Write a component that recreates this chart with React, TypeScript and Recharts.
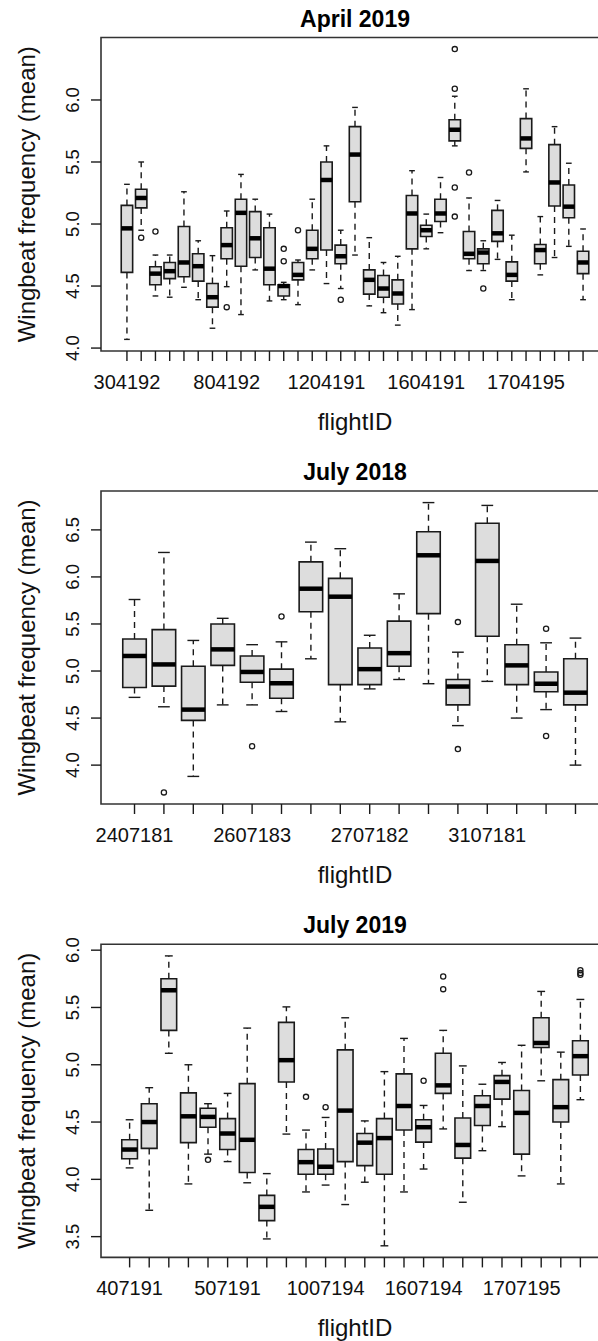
import React from 'react';
import { ComposedChart, XAxis, YAxis, ReferenceArea, ReferenceLine, Scatter } from 'recharts';

const FONT = '"Liberation Sans", Arial, Helvetica, sans-serif';
const INK = '#1a1a1a';
const BOX_FILL = '#dddddd';

// R-like plot geometry (the right side of the frame sits past the crop, like the source image)
const CHART_W = 640;
const CHART_H = 447;
const PLOT_LEFT = 101;
const PLOT_RIGHT = 609;

// --- April 2019 ---
const aprilIds = ['304192', '304193', '404191', '404192', '504191', '504192', '704191', '804192', '804193', '904191', '904192', '1004191', '1004192', '1104191', '1204191', '1204192', '1304191', '1304192', '1404191', '1404192', '1504191', '1604191', '1604192', '1604193', '1704191', '1704192', '1704193', '1704194', '1704195', '1704196', '1804191', '1804192', '1804193'];
const aprilLabelled = [1, 8, 15, 22, 29];
const aprilLow = [4.07, 4.95, 4.42, 4.41, 4.49, 4.39, 4.16, 4.495, 4.27, 4.63, 4.38, 4.39, 4.35, 4.63, 4.52, 4.48, 4.75, 4.34, 4.285, 4.185, 4.31, 4.8, 4.93, 5.63, 4.625, 4.625, 4.715, 4.39, 5.42, 4.59, 4.73, 4.82, 4.39];
const aprilQ1 = [4.61, 5.13, 4.51, 4.56, 4.575, 4.54, 4.33, 4.72, 4.66, 4.73, 4.51, 4.42, 4.55, 4.72, 4.79, 4.68, 5.18, 4.435, 4.41, 4.355, 4.8, 4.9, 5.02, 5.67, 4.72, 4.68, 4.86, 4.54, 5.61, 4.68, 5.145, 5.05, 4.6];
const aprilMedian = [4.965, 5.21, 4.6, 4.62, 4.69, 4.66, 4.41, 4.83, 5.09, 4.885, 4.64, 4.5, 4.59, 4.8, 5.355, 4.74, 5.56, 4.55, 4.48, 4.44, 5.085, 4.95, 5.085, 5.76, 4.76, 4.77, 4.925, 4.59, 5.69, 4.79, 5.335, 5.14, 4.69];
const aprilQ3 = [5.15, 5.28, 4.655, 4.69, 4.98, 4.76, 4.52, 4.97, 5.2, 5.1, 4.97, 4.51, 4.69, 4.95, 5.5, 4.83, 5.785, 4.63, 4.585, 4.55, 5.23, 4.99, 5.2, 5.84, 4.94, 4.8, 5.11, 4.695, 5.85, 4.835, 5.64, 5.315, 4.78];
const aprilHigh = [5.32, 5.5, 4.75, 4.75, 5.26, 4.865, 4.745, 5.105, 5.4, 5.2, 5.08, 4.53, 4.71, 5.2, 5.63, 4.95, 5.94, 4.89, 4.69, 4.74, 5.43, 5.08, 5.375, 6.03, 5.21, 4.865, 5.19, 4.91, 6.09, 5.06, 5.785, 5.49, 4.96];
const aprilOutliers: [number, number][] = [[2, 4.89], [3, 4.94], [8, 4.33], [12, 4.8], [12, 4.7], [13, 4.95], [16, 4.39], [24, 6.41], [24, 6.09], [24, 5.295], [24, 5.06], [25, 5.415], [26, 4.48]];
const aprilYTicks = [4, 4.5, 5, 5.5, 6];

// --- July 2018 ---
const july18Ids = ['2407181', '2407182', '2507181', '2607181', '2607183', '2607184', '2607185', '2707181', '2707182', '2707183', '2807181', '2907181', '3107181', '3107182', '3107183', '3107184'];
const july18Labelled = [1, 5, 9, 13];
const july18Low = [4.72, 4.62, 3.88, 4.64, 4.64, 4.57, 5.13, 4.46, 4.81, 4.91, 4.865, 4.42, 4.89, 4.5, 4.59, 4.0];
const july18Q1 = [4.825, 4.84, 4.475, 5.06, 4.88, 4.71, 5.63, 4.855, 4.855, 5.05, 5.61, 4.64, 5.37, 4.855, 4.78, 4.64];
const july18Median = [5.16, 5.07, 4.59, 5.23, 4.99, 4.87, 5.875, 5.79, 5.02, 5.19, 6.23, 4.835, 6.17, 5.06, 4.865, 4.77];
const july18Q3 = [5.34, 5.44, 5.05, 5.5, 5.16, 5.02, 6.16, 5.985, 5.245, 5.53, 6.48, 4.91, 6.57, 5.28, 4.99, 5.13];
const july18High = [5.76, 6.26, 5.325, 5.56, 5.28, 5.31, 6.37, 6.3, 5.38, 5.82, 6.79, 5.2, 6.76, 5.71, 5.3, 5.35];
const july18Outliers: [number, number][] = [[2, 3.71], [5, 4.2], [6, 5.58], [12, 5.52], [12, 4.17], [15, 5.45], [15, 4.31]];
const july18YTicks = [4, 4.5, 5, 5.5, 6, 6.5];

// --- July 2019 ---
const july19Ids = ['407191', '407192', '407193', '407194', '407195', '507191', '507192', '507193', '807191', '907191', '1007194', '1007195', '1107191', '1207191', '1507191', '1607194', '1607195', '1707191', '1707192', '1707193', '1707195', '1707196', '1807191', '1807192'];
const july19Labelled = [1, 6, 11, 16, 21];
const july19Low = [4.1, 3.73, 5.1, 3.96, 4.22, 4.155, 3.97, 3.48, 4.395, 3.89, 3.95, 3.78, 3.975, 3.42, 3.89, 4.09, 4.44, 3.8, 4.25, 4.46, 4.03, 4.86, 3.96, 4.695];
const july19Q1 = [4.18, 4.27, 5.3, 4.32, 4.455, 4.26, 4.06, 3.64, 4.85, 4.045, 4.045, 4.155, 4.12, 4.045, 4.43, 4.325, 4.75, 4.185, 4.47, 4.7, 4.22, 5.15, 4.5, 4.91];
const july19Median = [4.26, 4.5, 5.65, 4.55, 4.545, 4.4, 4.345, 3.76, 5.04, 4.15, 4.11, 4.6, 4.32, 4.36, 4.64, 4.455, 4.82, 4.3, 4.64, 4.85, 4.58, 5.19, 4.63, 5.075];
const july19Q3 = [4.345, 4.66, 5.75, 4.755, 4.62, 4.53, 4.835, 3.86, 5.37, 4.26, 4.265, 5.13, 4.4, 4.53, 4.92, 4.52, 5.1, 4.535, 4.73, 4.905, 4.775, 5.41, 4.87, 5.21];
const july19High = [4.52, 4.8, 5.95, 5.0, 4.66, 4.75, 5.32, 4.05, 5.505, 4.43, 4.54, 5.41, 4.51, 4.94, 5.23, 4.645, 5.3, 4.99, 4.83, 5.02, 5.17, 5.64, 5.11, 5.57];
const july19Outliers: [number, number][] = [[5, 4.17], [10, 4.72], [11, 4.63], [16, 4.86], [17, 5.77], [17, 5.66], [24, 5.825], [24, 5.8], [24, 5.785]];
const july19YTicks = [3.5, 4, 4.5, 5, 5.5, 6];

interface PanelProps {
  title: string;
  ids: string[];
  labelled: number[];
  low: number[];
  q1: number[];
  median: number[];
  q3: number[];
  high: number[];
  outliers: [number, number][];
  yTicks: number[];
  top: number;
  bottom: number;
}

const BoxPanel: React.FC<PanelProps> = (p) => {
  const n = p.ids.length;
  const xDomain: [number, number] = [0.5 - 0.04 * n, n + 0.5 + 0.04 * n];
  const all = [...p.low, ...p.high, ...p.outliers.map((o) => o[1])];
  const dMin = Math.min(...all);
  const dMax = Math.max(...all);
  const pad = (dMax - dMin) * 0.04;
  const yDomain: [number, number] = [dMin - pad, dMax + pad];
  const midX = (PLOT_LEFT + PLOT_RIGHT) / 2;
  const midY = (p.top + p.bottom) / 2;
  const outlierData = p.outliers.map(([i, v]) => ({ x: i, y: v }));
  const xTicks = p.ids.map((_, i) => i + 1);

  const marks = p.ids.flatMap((_, k) => {
    const x = k + 1;
    return [
      <ReferenceLine key={`wh${k}`} segment={[{ x, y: p.q3[k] }, { x, y: p.high[k] }]} stroke={INK} strokeWidth={1.4} strokeDasharray="6 5" />,
      <ReferenceLine key={`wl${k}`} segment={[{ x, y: p.q1[k] }, { x, y: p.low[k] }]} stroke={INK} strokeWidth={1.4} strokeDasharray="6 5" />,
      <ReferenceLine key={`sh${k}`} segment={[{ x: x - 0.2, y: p.high[k] }, { x: x + 0.2, y: p.high[k] }]} stroke={INK} strokeWidth={1.4} />,
      <ReferenceLine key={`sl${k}`} segment={[{ x: x - 0.2, y: p.low[k] }, { x: x + 0.2, y: p.low[k] }]} stroke={INK} strokeWidth={1.4} />,
      <ReferenceArea key={`b${k}`} x1={x - 0.4} x2={x + 0.4} y1={p.q1[k]} y2={p.q3[k]} fill={BOX_FILL} fillOpacity={1} stroke={INK} strokeWidth={1.6} />,
      <ReferenceLine key={`m${k}`} segment={[{ x: x - 0.4, y: p.median[k] }, { x: x + 0.4, y: p.median[k] }]} stroke="#000" strokeWidth={4.5} />,
    ];
  });

  const renderXTick = (props: any) => {
    const { x, payload } = props;
    const idx = payload.value as number;
    const show = p.labelled.includes(idx);
    return (
      <g>
        <line x1={x} x2={x} y1={p.bottom} y2={p.bottom + 10} stroke={INK} strokeWidth={1.4} />
        {show && (
          <text x={x} y={p.bottom + 37.5} textAnchor="middle" fontSize={20} fontFamily={FONT} fill="#111">
            {p.ids[idx - 1]}
          </text>
        )}
      </g>
    );
  };

  const renderYTick = (props: any) => {
    const { y, payload } = props;
    return (
      <g>
        <line x1={PLOT_LEFT - 10} x2={PLOT_LEFT} y1={y} y2={y} stroke={INK} strokeWidth={1.4} />
        <text x={79} y={y} transform={`rotate(-90 79 ${y})`} textAnchor="middle" fontSize={18.5} fontFamily={FONT} fill="#111">
          {Number(payload.value).toFixed(1)}
        </text>
      </g>
    );
  };

  const titles = () => (
    <g>
      <text x={midX} y={p.top - 11} textAnchor="middle" fontSize={23} fontWeight="bold" fontFamily={FONT} fill="#000">
        {p.title}
      </text>
      <text x={35} y={midY} transform={`rotate(-90 35 ${midY})`} textAnchor="middle" fontSize={24} fontFamily={FONT} fill="#111">
        Wingbeat frequency (mean)
      </text>
    </g>
  );

  const xTitle = () => (
    <text x={midX} y={p.bottom + 79} textAnchor="middle" fontSize={24} fontFamily={FONT} fill="#111">
      flightID
    </text>
  );

  return (
    <ComposedChart width={CHART_W} height={CHART_H} margin={{ top: p.top, right: CHART_W - PLOT_RIGHT, bottom: 0, left: 0 }}>
      <XAxis
        type="number"
        dataKey="x"
        domain={xDomain}
        allowDataOverflow
        ticks={xTicks}
        interval={0}
        axisLine={false}
        tickLine={false}
        height={CHART_H - p.bottom}
        tick={renderXTick}
        label={xTitle}
      />
      <YAxis
        type="number"
        dataKey="y"
        domain={yDomain}
        allowDataOverflow
        ticks={p.yTicks}
        interval={0}
        axisLine={false}
        tickLine={false}
        width={PLOT_LEFT}
        tick={renderYTick}
        label={titles}
      />
      {marks}
      <ReferenceArea x1={xDomain[0]} x2={xDomain[1]} y1={yDomain[0]} y2={yDomain[1]} fill="none" fillOpacity={0} stroke="#333" strokeWidth={1.6} ifOverflow="visible" />
      <Scatter
        data={outlierData}
        isAnimationActive={false}
        shape={(s: any) => <circle cx={s.cx} cy={s.cy} r={2.6} fill="none" stroke={INK} strokeWidth={1.3} />}
      />
    </ComposedChart>
  );
};

export default function App() {
  return (
    <div style={{ position: 'absolute', left: 0, top: 0, width: 598, height: 1341, overflow: 'hidden', background: '#fff' }}>
      <div style={{ position: 'absolute', left: 0, top: 0 }}>
        <BoxPanel title="April 2019" ids={aprilIds} labelled={aprilLabelled} low={aprilLow} q1={aprilQ1} median={aprilMedian} q3={aprilQ3} high={aprilHigh} outliers={aprilOutliers} yTicks={aprilYTicks} top={37.5} bottom={351} />
      </div>
      <div style={{ position: 'absolute', left: 0, top: 447 }}>
        <BoxPanel title="July 2018" ids={july18Ids} labelled={july18Labelled} low={july18Low} q1={july18Q1} median={july18Median} q3={july18Q3} high={july18High} outliers={july18Outliers} yTicks={july18YTicks} top={44} bottom={357} />
      </div>
      <div style={{ position: 'absolute', left: 0, top: 894 }}>
        <BoxPanel title="July 2019" ids={july19Ids} labelled={july19Labelled} low={july19Low} q1={july19Q1} median={july19Median} q3={july19Q3} high={july19High} outliers={july19Outliers} yTicks={july19YTicks} top={50.3} bottom={363.4} />
      </div>
    </div>
  );
}
